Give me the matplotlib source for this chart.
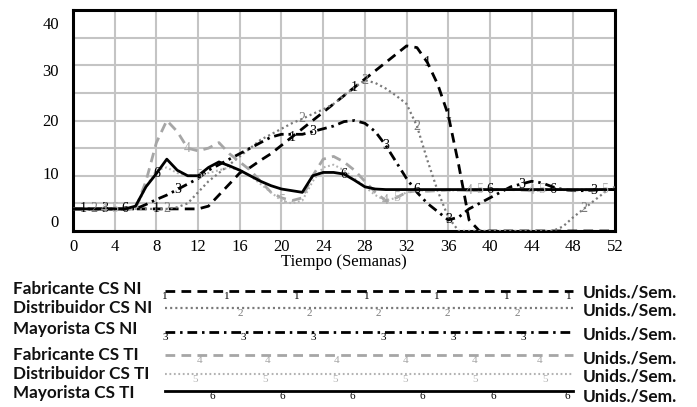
import matplotlib
matplotlib.use("Agg")
import matplotlib.pyplot as plt
import matplotlib.transforms as mtransforms
import numpy as np

plt.rcParams['lines.scale_dashes'] = False

weeks = list(range(0, 53))

fabricante_ni = [4]*13 + [4.5, 6.5, 8.5, 10.5, 11.5, 12.8, 14, 15.5, 17, 18.5, 20, 21.5, 23, 24.5,
                          26, 27.5, 29, 30.5, 32, 33.5, 33.2, 30.5, 26.5, 21, 12, 2] + [0]*14
distribuidor_ni = [4]*10 + [4.3, 5, 7, 9, 10.5, 12, 13.5, 15, 16.5, 17.5, 18.5, 19.5, 20.3, 21.2, 22,
                            23, 24.5, 26, 27.3, 26.8, 25.8, 24.5, 23, 19, 12.8, 7.2, 2.5] + [0]*10 + \
                  [0.8, 2.5, 4, 5.5, 7, 8]
mayorista_ni = [4]*7 + [4.8, 5.7, 6.5, 7.5, 8.5, 9.5, 11, 12, 13, 14, 15, 16, 17, 17.5, 17.5, 17.5, 18,
                        18.5, 19, 19.8, 20, 19.5, 18, 15.5, 12.5, 9.5, 7, 5, 3.5, 2, 2.5, 4, 5, 6, 7, 8,
                        8.5, 9, 8.7, 8, 7.5, 7.3, 7.3, 7.4, 7.5, 7.5]
fabricante_ti = [4]*7 + [9, 16, 20, 18, 15, 14.5, 15, 16, 14, 12.5, 11, 9, 7, 6, 5.5, 6, 10, 13, 13.5,
                         12.5, 11, 9, 7, 5.5, 6, 7, 7.3, 7.2, 7.3, 7.4, 7.4, 7.3, 7.3, 7.4, 7.5, 7.5,
                         7.4, 7.3, 7.4, 7.5, 7.5, 7.4, 7.4, 7.5, 7.5, 7.5]
distribuidor_ti = [4]*7 + [8, 11, 11.5, 10.5, 10, 10, 10.5, 11, 11.5, 11, 10, 8.5, 7, 5.5, 5, 5.5, 9,
                           11.5, 12, 11, 9.5, 8, 6.5, 5.5, 6, 7, 7.3, 7.4, 7.4, 7.3, 7.4, 7.5, 7.5,
                           7.4, 7.4, 7.5, 7.6, 7.5, 7.5, 7.5, 7.4, 7.5, 7.5, 7.6, 7.6, 7.6]
mayorista_ti = [4]*6 + [4.5, 8, 10.4, 13, 11, 10, 10, 11.5, 12.5, 11.8, 11, 10, 9, 8.2, 7.6, 7.3, 7,
                        10, 10.6, 10.6, 10.3, 9.2, 8, 7.6] + [7.5]*23

series_names = ["Fabricante CS NI", "Distribuidor CS NI", "Mayorista CS NI",
                "Fabricante CS TI", "Distribuidor CS TI", "Mayorista CS TI"]
series_data = [fabricante_ni, distribuidor_ni, mayorista_ni,
               fabricante_ti, distribuidor_ti, mayorista_ti]
unit_label = "Unids./Sem."
x_ticks = list(range(0, 53, 4))
y_ticks = [0, 10, 20, 30, 40]
x_title = "Tiempo (Semanas)"

# where Vensim puts the series numbers (week index)
label_weeks = [
    [1, 8, 21, 27, 34, 36],
    [2, 9, 22, 28, 33, 49],
    [3, 10, 23, 30, 36, 43, 50],
    [3, 11, 30, 38, 44],
    [4, 12, 20, 31, 39, 45, 51],
    [5, 8, 26, 33, 40, 46],
]

styles = [
    dict(color="black", lw=2.0, dashes=(7, 4.5)),
    dict(color="#7a7a7a", lw=1.6, dashes=(1.5, 2.2)),
    dict(color="black", lw=2.0, dashes=(7, 3.5, 1.8, 3.5)),
    dict(color="#a6a6a6", lw=2.0, dashes=(7, 4.5)),
    dict(color="#b3b3b3", lw=1.5, dashes=(1.3, 1.9)),
    dict(color="black", lw=2.0, ls="-"),
]

W, H = 697, 407
fig = plt.figure(figsize=(W/100, H/100), dpi=100)
ax = fig.add_axes([73/W, 1 - 231/H, 542/W, 221/H])

serif = ["Liberation Serif", "DejaVu Serif"]

for i, (s, st) in enumerate(zip(series_data, styles)):
    ax.plot(weeks, s, zorder=3, **st)
    for w in label_weeks[i]:
        ax.text(w, s[w], str(i + 1), color=st["color"], fontsize=10, family=serif,
                ha="center", va="center", zorder=4, clip_on=False)

ax.set_xlim(0, 52)
ax.set_ylim(0, 40)
ax.set_xticks(x_ticks)
ax.set_yticks(y_ticks)
ax.set_yticks([5, 15, 25, 35], minor=True)
ax.grid(True, which="both", color="#c4c4c4", lw=1.5, zorder=1)
ax.tick_params(which="both", length=0)
ax.tick_params(axis="y", pad=10)
ax.tick_params(axis="x", pad=6)
for lbl in ax.get_xticklabels() + ax.get_yticklabels():
    lbl.set_fontfamily(serif)
    lbl.set_fontsize(12)
for sp in ax.spines.values():
    sp.set_linewidth(2.2)
    sp.set_color("black")
ax.set_xlabel(x_title, family=serif, fontsize=12, labelpad=-1)

# nudge y tick labels like the original rendering
offs = [10, 3, 0, -5, -13]
for lbl, d in zip(ax.get_yticklabels(), offs):
    lbl.set_transform(lbl.get_transform() + mtransforms.ScaledTranslation(0, d/100, fig.dpi_scale_trans))

# legend block drawn in pixel coordinates
lg = fig.add_axes([0, 0, 1, 1])
lg.set_xlim(0, W)
lg.set_ylim(H, 0)
lg.set_axis_off()
lg.patch.set_visible(False)

text_y = [289, 308, 329, 355, 374, 393]
line_y = [291, 308, 332, 355, 374, 391]
unit_y = [293, 311, 334, 358, 377, 396]
num_x = [
    [165, 227, 297, 367, 437, 507, 569],
    [240, 309, 378, 447, 517],
    [165, 243, 313, 383, 453, 523],
    [200, 268, 337, 406, 475, 540],
    [195, 265, 335, 405, 475, 545],
    [212, 282, 352, 422, 493, 567],
]
sans = ["Lato", "DejaVu Sans"]
for i, name in enumerate(series_names):
    lg.text(13, text_y[i], name, family=sans, fontweight="bold", fontsize=12.3,
            ha="left", va="center", color="#111111")
    lg.plot([165, 573], [line_y[i], line_y[i]], **styles[i])
    for xx in num_x[i]:
        lg.text(xx, line_y[i] + 1, str(i + 1), family=serif, fontsize=8,
                color=styles[i]["color"], ha="center", va="top")
    lg.text(583, unit_y[i], unit_label, family=sans, fontweight="bold", fontsize=12.5,
            ha="left", va="center", color="#111111")

fig.savefig("out.png", dpi=100)
